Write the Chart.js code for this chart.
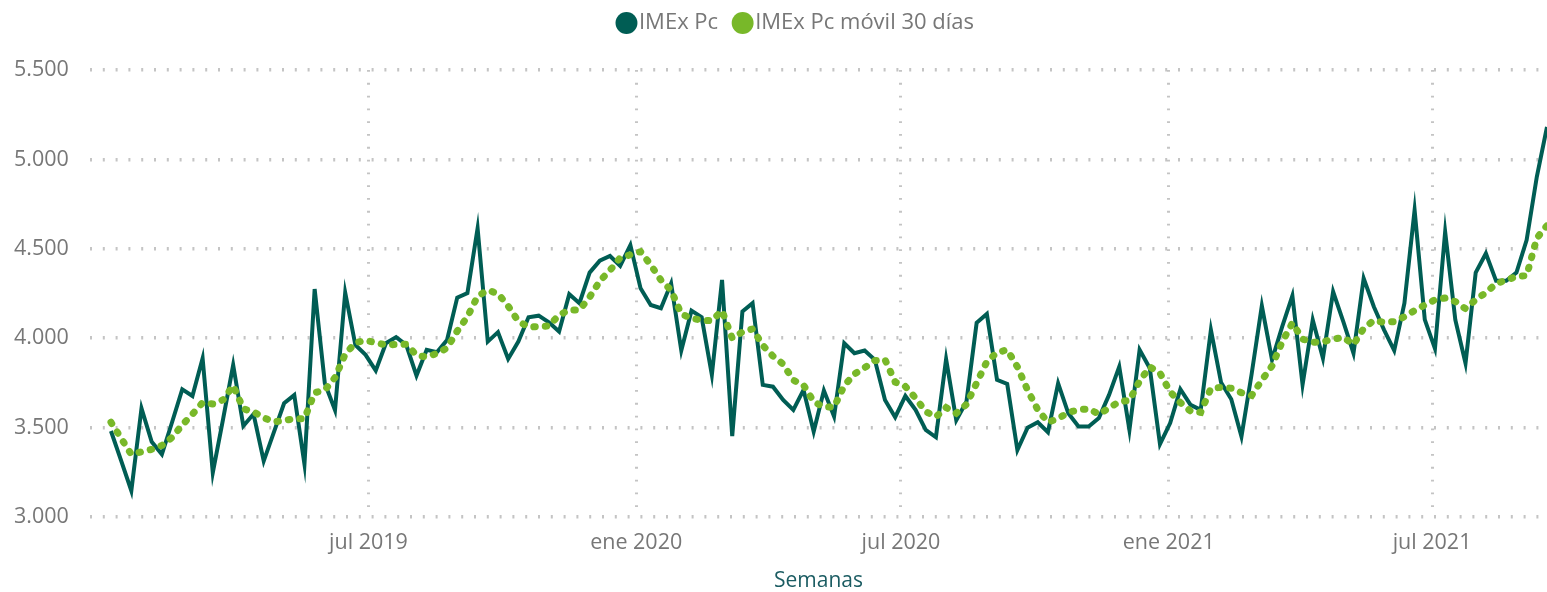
<!DOCTYPE html>
<html>
<head>
<meta charset="utf-8">
<script src="https://cdn.jsdelivr.net/npm/chart.js@4.4.1/dist/chart.umd.min.js"></script>
<style>
  html, body { margin: 0; padding: 0; background: #fff; }
  #wrap { width: 1547px; height: 592px; position: relative; }
</style>
</head>
<body>
<div id="wrap"><canvas id="imexChart"></canvas></div>
<script>
// primera semana de la serie
const startDate = '2019-01-05';

const imexPc = [
  3481, 3315, 3147, 3608, 3421, 3351, 3530, 3714, 3677, 3888,
  3248, 3545, 3850, 3509, 3576, 3313, 3475, 3636, 3682, 3296,
  4275, 3748, 3598, 4255, 3962, 3907, 3819, 3972, 4006, 3962,
  3791, 3935, 3922, 3990, 4227, 4252, 4615, 3981, 4034, 3884,
  3981, 4117, 4126, 4089, 4037, 4246, 4196, 4367, 4434, 4460,
  4404, 4521, 4279, 4186, 4168, 4307, 3931, 4154, 4117, 3795,
  4326, 3453, 4149, 4196, 3739, 3729, 3655, 3599, 3711, 3478,
  3707, 3562, 3972, 3916, 3931, 3879, 3655, 3558, 3677, 3599,
  3487, 3446, 3883, 3542, 3646, 4087, 4136, 3767, 3744, 3375,
  3500, 3530, 3474, 3748, 3580, 3506, 3506, 3553, 3683, 3841,
  3487, 3935, 3832, 3407, 3525, 3715, 3627, 3599, 4047, 3752,
  3659, 3450, 3800, 4181, 3879, 4065, 4237, 3740, 4102, 3888,
  4260, 4093, 3916, 4335, 4176, 4047, 3931, 4196, 4716, 4104,
  3942, 4595, 4102, 3860, 4367, 4474, 4321, 4321, 4367, 4549,
  4903, 5182
];

const imexMovil30 = [
  3530, 3440, 3350, 3365, 3378, 3400, 3445, 3515, 3575, 3640,
  3632, 3655, 3735, 3605, 3588, 3555, 3532, 3540, 3550, 3550,
  3695, 3710, 3780, 3910, 3975, 3988, 3975, 3962, 3965, 3966,
  3905, 3895, 3915, 3945, 4040, 4120, 4235, 4268, 4250, 4180,
  4095, 4063, 4065, 4069, 4130, 4158, 4158, 4230, 4320, 4380,
  4450, 4467, 4484, 4410, 4325, 4268, 4135, 4112, 4100, 4098,
  4154, 4000, 4035, 4052, 3960, 3900, 3855, 3765, 3738, 3645,
  3615, 3615, 3735, 3800, 3835, 3875, 3880, 3755, 3730, 3665,
  3590, 3560, 3612, 3580, 3630, 3750, 3869, 3920, 3935, 3840,
  3710, 3600, 3530, 3550, 3585, 3600, 3605, 3575, 3610, 3645,
  3652, 3760, 3840, 3805, 3700, 3640, 3592, 3585, 3720, 3725,
  3720, 3695, 3680, 3765, 3845, 3980, 4085, 3995, 3977, 3980,
  3995, 4005, 3965, 4055, 4100, 4088, 4093, 4120, 4155, 4185,
  4215, 4225, 4205, 4165, 4215, 4255, 4305, 4325, 4345, 4350,
  4560, 4630
];

const tickDates = ['2019-07-01', '2020-01-01', '2020-07-01', '2021-01-01', '2021-07-01'];
const tickLabels = ['jul 2019', 'ene 2020', 'jul 2020', 'ene 2021', 'jul 2021'];
const yTicks = [3000, 3500, 4000, 4500, 5000, 5500];

const dayOffset = d => (Date.parse(d) - Date.parse(startDate)) / 86400000;
// días desde la primera semana
const semanas = imexPc.map((_, i) => i * 7);

const fmtMiles = v => Math.floor(v / 1000) + '.' + String(v % 1000).padStart(3, '0');

const FONT = "'Open Sans', 'Noto Sans', sans-serif";
const GRIS = '#777777';

new Chart(document.getElementById('imexChart').getContext('2d'), {
  type: 'line',
  data: {
    datasets: [{
      label: 'IMEx Pc',
      data: semanas.map((x, i) => ({ x, y: imexPc[i] })),
      borderColor: '#005D54',
      backgroundColor: '#005D54',
      borderWidth: 4,
      pointRadius: 0,
      tension: 0,
      order: 1
    }, {
      label: 'IMEx Pc móvil 30 días',
      data: semanas.map((x, i) => ({ x, y: imexMovil30[i] })),
      borderColor: '#78B829',
      backgroundColor: '#78B829',
      borderWidth: 7,
      borderDash: [1.5, 10],
      borderCapStyle: 'round',
      pointRadius: 0,
      tension: 0,
      order: 0
    }]
  },
  options: {
    responsive: true,
    maintainAspectRatio: false,
    animation: false,
    layout: { padding: { top: -11, left: 52, right: 0, bottom: 0 } },
    plugins: {
      legend: {
        position: 'top',
        labels: {
          usePointStyle: true,
          pointStyle: 'circle',
          boxWidth: 3,
          boxHeight: 15.5,
          padding: 23,
          color: GRIS,
          font: { family: FONT, size: 22 },
          generateLabels(chart) {
            const items = Chart.defaults.plugins.legend.labels.generateLabels(chart);
            items.forEach(it => {
              it.fillStyle = it.strokeStyle;
              it.lineWidth = 0;
              it.lineDash = [];
            });
            return items.sort((a, b) => a.datasetIndex - b.datasetIndex);
          }
        }
      },
      // espacio entre leyenda y gráfico
      subtitle: {
        display: true,
        text: '',
        weight: 500,
        padding: 0,
        font: { size: 21.7 }
      },
      tooltip: { enabled: false }
    },
    scales: {
      x: {
        type: 'linear',
        min: -14.4,
        max: semanas[semanas.length - 1],
        afterBuildTicks: s => { s.ticks = tickDates.map(d => ({ value: dayOffset(d) })); },
        afterFit: s => { s.height = 75; },
        ticks: {
          autoSkip: false,
          maxRotation: 0,
          padding: 13,
          color: GRIS,
          font: { family: FONT, size: 21.5 },
          callback: (v, i) => tickLabels[i]
        },
        grid: { color: '#c4c4c4', lineWidth: 3, drawTicks: false },
        border: { display: false, dash: [1.8, 11] },
        title: {
          display: true,
          text: 'Semanas',
          color: '#1B5C62',
          font: { family: FONT, size: 21 },
          padding: { top: 0, bottom: -2 }
        }
      },
      y: {
        min: 3000,
        max: 5500,
        afterBuildTicks: s => { s.ticks = yTicks.map(v => ({ value: v })); },
        afterFit: s => { s.width = 38; },
        ticks: {
          mirror: true,
          crossAlign: 'near',
          padding: -76,
          color: GRIS,
          font: { family: FONT, size: 21.5 },
          callback: v => fmtMiles(v)
        },
        grid: { color: '#c4c4c4', lineWidth: 3.5, drawTicks: false },
        border: { display: false, dash: [2, 10.8] }
      }
    }
  }
});
</script>
</body>
</html>
